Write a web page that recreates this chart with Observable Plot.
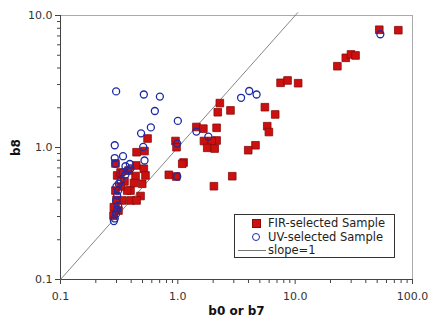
<!DOCTYPE html>
<html>
<head>
<meta charset="utf-8">
<script src="https://cdn.jsdelivr.net/npm/d3@7"></script>
<script src="https://cdn.jsdelivr.net/npm/@observablehq/plot@0.6"></script>
<style>
  html, body { margin: 0; padding: 0; background: #fff; }
  #wrap { position: relative; width: 436px; height: 327px; font-family: "DejaVu Sans", Verdana, sans-serif; }
  #wrap svg { font-family: "DejaVu Sans", Verdana, sans-serif; }
  #wrap g[aria-label="x-axis label"] text, #wrap g[aria-label="y-axis label"] text { font-weight: bold; font-size: 12px; fill: #111; }
  #legend { position: absolute; left: 234px; top: 214px; width: 159px; height: 42px; border: 1px solid #333; background: #fff; font-size: 11.5px; color: #222; }
  .row { position: absolute; left: 0; height: 14px; line-height: 14px; white-space: nowrap; }
  .row span { position: absolute; left: 33px; }
  .sym { position: absolute; }
</style>
</head>
<body>
<div id="wrap"></div>
<script>
// FIR-selected sample: b0 (x) and b8 (y)
const firX = [52.1, 75.7, 22.9, 27.0, 29.9, 32.7, 7.51, 8.61, 10.6, 2.28, 2.19, 2.81, 5.52, 6.76, 5.78, 5.97, 4.59, 3.98,
  1.44, 1.65, 2.14, 1.67, 2.14, 1.94, 1.78, 2.06, 0.955, 0.975, 1.12, 1.09, 0.838, 0.969, 2.91, 2.03,
  0.552, 0.445, 0.520, 0.442, 0.513, 0.304, 0.436, 0.530, 0.422, 0.497, 0.395, 0.370, 0.481, 0.395, 0.445, 0.336, 0.300,
  0.351, 0.325, 0.312, 0.294, 0.283, 0.325, 0.380, 0.294, 0.294, 0.285];
const firY = [7.80, 7.74, 4.13, 4.78, 5.07, 4.98, 3.09, 3.22, 3.07, 2.17, 1.85, 1.91, 2.02, 1.78, 1.45, 1.31, 1.04, 0.954,
  1.43, 1.39, 1.41, 1.12, 1.13, 1.12, 0.994, 0.982, 1.12, 1.005, 0.770, 0.753, 0.621, 0.603, 0.606, 0.509,
  1.17, 0.921, 0.940, 0.731, 0.690, 0.614, 0.608, 0.614, 0.538, 0.531, 0.472, 0.472, 0.429, 0.397, 0.397, 0.397, 0.400,
  0.553, 0.507, 0.333, 0.345, 0.305, 0.647, 0.669, 0.757, 0.472, 0.353];
// UV-selected sample
const uvX = [0.298, 0.513, 0.703, 0.637, 1.00, 0.589, 0.486, 0.290, 0.507, 0.290, 0.341, 0.520, 0.358, 0.390, 0.988,
  1.44, 1.82, 3.46, 4.06, 4.69, 53.2, 0.988, 0.375, 0.358, 0.325, 0.314, 0.310, 0.304, 0.298, 0.310, 0.304, 0.298,
  0.290, 0.285, 0.294, 0.338, 0.395, 0.300];
const uvY = [2.66, 2.52, 2.43, 1.89, 1.59, 1.42, 1.28, 1.04, 1.01, 0.832, 0.859, 0.797, 0.721, 0.750, 1.07,
  1.32, 1.21, 2.38, 2.68, 2.52, 7.21, 0.603, 0.669, 0.624, 0.562, 0.531, 0.472, 0.433, 0.397, 0.363, 0.337, 0.315,
  0.290, 0.277, 0.753, 0.647, 0.693, 0.507];
// slope = 1 reference line
const slopeVals = [0.1, 10.5];
// ticks
const majorTicks = [0.1, 1, 10, 100];
const minorTicks = [0.2,0.3,0.4,0.5,0.6,0.7,0.8,0.9, 2,3,4,5,6,7,8,9, 20,30,40,50,60,70,80,90];
const majorTicksY = [0.1, 1, 10];
const minorTicksY = [0.2,0.3,0.4,0.5,0.6,0.7,0.8,0.9, 2,3,4,5,6,7,8,9];

const fir = firX.map((x, i) => ({x, y: firY[i]}));
const uv = uvX.map((x, i) => ({x, y: uvY[i]}));
const slope = slopeVals.map(v => ({x: v, y: v}));
const fmt = d => d.toFixed(1);

const chart = Plot.plot({
  width: 436,
  height: 327,
  marginLeft: 60,
  marginRight: 24,
  marginTop: 15,
  marginBottom: 48,
  style: {fontFamily: "DejaVu Sans, Verdana, sans-serif", fontSize: "11px", color: "#333", background: "#fff"},
  x: {type: "log", domain: [0.1, 100], nice: false},
  y: {type: "log", domain: [0.1, 10], nice: false},
  marks: [
    Plot.frame({stroke: "#aaa"}),
    Plot.axisX(minorTicks, {tickSize: 4, tickFormat: () => "", stroke: "#444", label: null}),
    Plot.axisX(majorTicks, {tickSize: 5, tickPadding: 8, tickFormat: fmt, stroke: "#444", fill: "#333",
      label: "b0 or b7", labelAnchor: "center", labelArrow: "none", labelOffset: 35}),
    Plot.axisY(minorTicksY, {tickSize: 3, tickFormat: () => "", stroke: "#444", label: null}),
    Plot.axisY(majorTicksY, {tickSize: 5, tickPadding: 3, tickFormat: fmt, stroke: "#444", fill: "#333",
      label: "b8", labelAnchor: "center", labelArrow: "none", labelOffset: 49}),
    Plot.ruleX([0.1], {stroke: "#444"}),
    Plot.ruleY([0.1], {stroke: "#444"}),
    Plot.line(slope, {x: "x", y: "y", stroke: "#777", strokeWidth: 0.9}),
    Plot.dot(fir, {x: "x", y: "y", symbol: "square", r: 4.3, fill: "#cc1010", stroke: "#8a0a0a", strokeWidth: 0.8}),
    Plot.dot(uv, {x: "x", y: "y", r: 3.5, fill: "none", stroke: "#1c2ba6", strokeWidth: 1.3})
  ]
});
const wrap = document.getElementById("wrap");
wrap.appendChild(chart);

const legend = document.createElement("div");
legend.id = "legend";
legend.innerHTML = `
  <div class="row" style="top:1px;width:159px"><div class="sym" style="left:17px;top:3px;width:7px;height:7px;background:#cc1010;border:1px solid #8a0a0a"></div><span>FIR-selected Sample</span></div>
  <div class="row" style="top:14.5px;width:159px"><div class="sym" style="left:17px;top:3px;width:6px;height:6px;border:1.3px solid #1c2ba6;border-radius:50%"></div><span>UV-selected Sample</span></div>
  <div class="row" style="top:27.5px;width:159px"><div class="sym" style="left:3px;top:7px;width:28px;height:0;border-top:1px solid #777"></div><span>slope=1</span></div>`;
wrap.appendChild(legend);
</script>
</body>
</html>
